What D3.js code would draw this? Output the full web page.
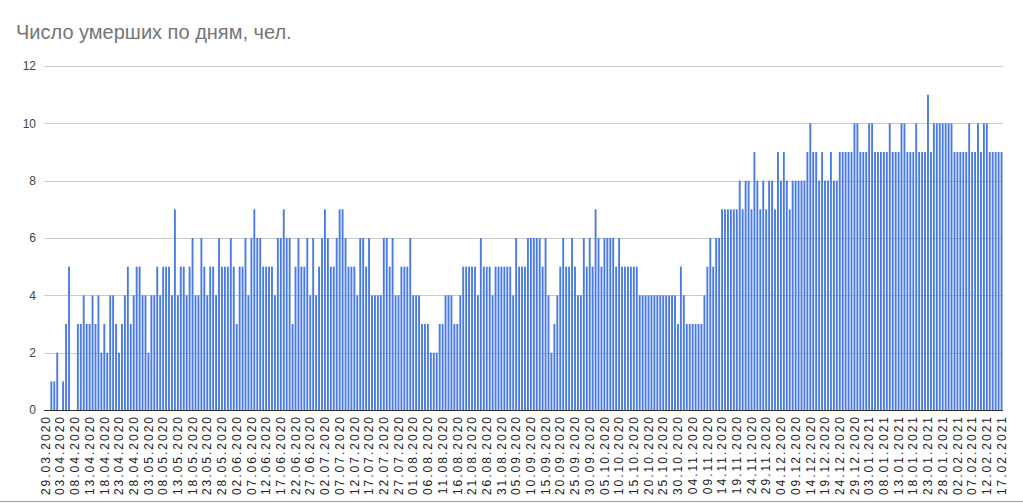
<!DOCTYPE html>
<html><head><meta charset="utf-8">
<script src="https://cdn.jsdelivr.net/npm/d3@7/dist/d3.min.js"></script>
<style>
body{margin:0;background:#fff;}
svg{display:block;font-family:"Liberation Sans",Arial,sans-serif;}
</style>
</head><body>
<svg id="chart" width="1023" height="503"></svg>
<script>
// Daily deaths
const mar2020 = [0,0,1];
const apr2020 = [1,2,0,1,3,5,0,0,3,3,4,3,3,4,3,4,2,3,2,4,4,3,2,3,4,5,3,4,5,5];
const may2020 = [4,4,2,4,4,5,4,5,5,5,4,7,4,5,5,4,5,6,4,4,6,5,4,5,5,4,6,5,5,5,6];
const jun2020 = [5,3,5,5,6,4,6,7,6,6,5,5,5,5,4,6,6,7,6,6,3,5,6,5,5,6,4,6,4,5];
const jul2020 = [6,7,6,5,5,6,7,7,6,5,5,5,4,6,6,5,6,4,4,4,4,6,6,5,6,4,4,5,5,5,6];
const aug2020 = [4,4,4,3,3,3,2,2,2,3,3,4,4,4,3,3,4,5,5,5,5,5,4,6,5,5,5,4,5,5,5];
const sep2020 = [5,5,5,4,6,5,5,5,6,6,6,6,6,5,6,4,2,3,4,5,6,5,5,6,5,4,4,6,5,6];
const oct2020 = [5,7,6,5,6,6,6,6,5,6,5,5,5,5,5,5,4,4,4,4,4,4,4,4,4,4,4,4,4,3,5];
const nov2020 = [4,3,3,3,3,3,3,4,5,6,5,6,6,7,7,7,7,7,7,8,7,8,8,7,9,8,7,8,7,8];
const dec2020 = [8,7,9,8,9,8,7,8,8,8,8,8,9,10,9,9,8,9,8,8,9,8,8,9,9,9,9,9,10,10,9];
const jan2021 = [9,9,10,10,9,9,9,9,9,10,9,9,9,10,10,9,9,9,10,9,9,9,11,9,10,10,10,10,10,10,10];
const feb2021 = [9,9,9,9,9,10,9,9,10,9,10,10,9,9,9,9,9];

const deaths = [].concat(mar2020, apr2020, may2020, jun2020, jul2020, aug2020,
  sep2020, oct2020, nov2020, dec2020, jan2021, feb2021);
const firstDay = new Date(2020, 2, 29);
const fmt = d3.timeFormat("%d.%m.%Y");
const dates = d3.range(deaths.length).map(i => fmt(d3.timeDay.offset(firstDay, i)));
const tickLabels = dates.filter((d, i) => i % 5 === 0);
const yTicks = [0, 2, 4, 6, 8, 10, 12];
const titleText = "Число умерших по дням, чел.";

const svg = d3.select("#chart");
const plot = {left: 44, right: 1003, top: 66, bottom: 410};

const x = d3.scaleBand().domain(dates).range([plot.left, plot.right])
  .paddingInner(0.36).paddingOuter(0.18);
const y = d3.scaleLinear().domain([0, 12]).range([plot.bottom, plot.top]);

// title
svg.append("text").attr("x", 16).attr("y", 39)
  .attr("font-size", 20).attr("fill", "#757575").text(titleText);

// gridlines + y labels
const yAxis = d3.axisLeft(y).tickValues(yTicks).tickSize(-(plot.right - plot.left)).tickPadding(8);
const gy = svg.append("g").attr("transform", `translate(${plot.left},0)`).call(yAxis);
gy.select(".domain").remove();
gy.selectAll(".tick line").attr("stroke", "#cccccc").attr("shape-rendering", "crispEdges");
gy.selectAll(".tick text").attr("font-size", 12).attr("fill", "#444").attr("font-family", "Liberation Sans, Arial, sans-serif");

// bars
svg.append("g").selectAll("rect").data(deaths).join("rect")
  .attr("x", (d, i) => x(dates[i]))
  .attr("width", x.bandwidth())
  .attr("y", d => y(d))
  .attr("height", d => y(0) - y(d))
  .attr("fill", "#4a7be3");

// baseline
svg.append("line").attr("x1", plot.left).attr("x2", plot.right)
  .attr("y1", y(0) + 0.5).attr("y2", y(0) + 0.5).attr("stroke", "#333").attr("stroke-width", 1);

// x labels (rotated)
const xAxis = d3.axisBottom(x).tickValues(tickLabels).tickSize(0).tickPadding(0);
const gx = svg.append("g").attr("transform", `translate(0,${plot.bottom})`).call(xAxis);
gx.select(".domain").remove();
gx.selectAll(".tick text")
  .attr("font-size", 12).attr("fill", "#222").attr("font-family", "Liberation Sans, Arial, sans-serif")
  .attr("letter-spacing", 2)
  .attr("text-anchor", "end")
  .attr("transform", "rotate(-90)")
  .attr("x", -5).attr("y", 0).attr("dy", "0.35em");

// bottom frame line
svg.append("line").attr("x1", 0).attr("x2", 1023).attr("y1", 501.5).attr("y2", 501.5)
  .attr("stroke", "#9e9e9e");
</script>
</body></html>
